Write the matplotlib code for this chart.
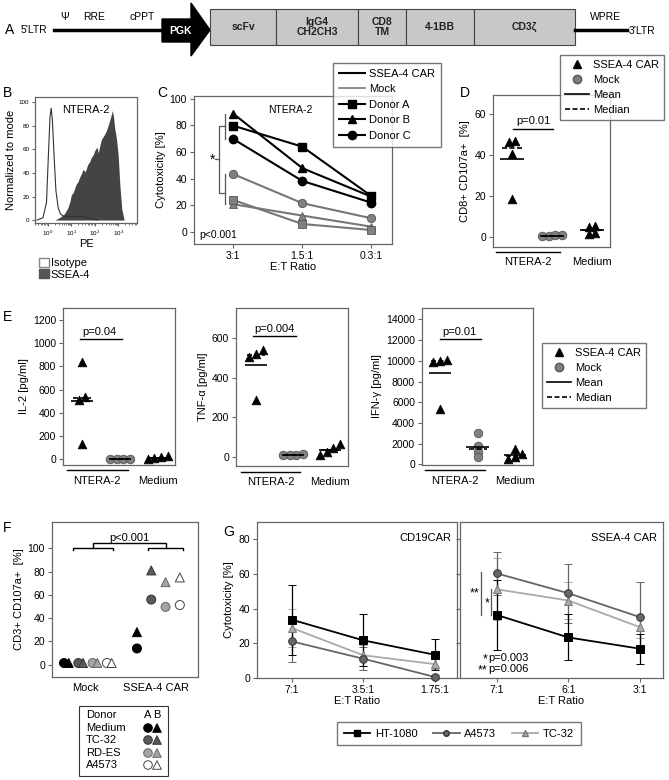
import numpy as np
import matplotlib
matplotlib.use('Agg')
import matplotlib.pyplot as plt
from matplotlib.lines import Line2D
from matplotlib.patches import Patch, Rectangle, Polygon

plt.rcParams['font.family'] = ['Liberation Sans', 'DejaVu Sans']
plt.rcParams['font.size'] = 7.5
plt.rcParams['axes.labelsize'] = 8

W, H = 669, 780

# ---------------- data ----------------
# A: construct segments
seg_names = ['scFv', 'IgG4\nCH2CH3', 'CD8\nTM', '4-1BB', 'CD3ζ']
seg_widths = [66, 82, 48, 68, 101]

# B: histogram (log10 PE, % of mode)
iso_x = [-0.45, -0.2, -0.05, 0.03, 0.1, 0.15, 0.2, 0.27, 0.35, 0.45, 0.55, 0.7, 0.9, 1.1, 1.4, 1.7, 1.9, 2.1]
iso_y = [0, 2, 15, 55, 88, 95, 85, 55, 25, 10, 5, 3, 3, 3, 3, 2, 1, 0]
ssea_x = [0.3, 0.5, 0.7, 0.85, 0.95, 1.0, 1.1, 1.2, 1.3, 1.35, 1.45, 1.5, 1.6, 1.7, 1.8, 1.85,
          1.95, 2.0, 2.1, 2.15, 2.25, 2.3, 2.4, 2.5, 2.6, 2.7, 2.75, 2.8, 2.85, 2.92, 3.0, 3.07,
          3.15, 3.25]
ssea_y = [0, 2, 5, 10, 16, 21, 24, 30, 33, 36, 40, 43, 41, 47, 50, 53, 56, 59, 62, 57, 66, 69,
          72, 76, 82, 89, 93, 88, 78, 70, 55, 30, 10, 0]

# C: cytotoxicity NTERA-2
c_ratios = ['3:1', '1.5:1', '0.3:1']
c_car = {'Donor A': [79.7, 64.0, 27.0], 'Donor B': [88.7, 47.9, 26.5], 'Donor C': [69.7, 38.3, 22.0]}
c_mock = {'Donor A': [24.0, 6.0, 1.5], 'Donor B': [20.8, 12.3, 4.0], 'Donor C': [43.4, 21.6, 10.3]}
donor_markers = {'Donor A': 's', 'Donor B': '^', 'Donor C': 'o'}

# D: CD107a
d_car = [47.0, 46.5, 40.5, 18.5]
d_mock = [0.5, 0.5, 0.8, 1.0]
d_medium = [5.5, 5.0, 2.0, 1.5]

# E: cytokines
e_il2 = ([840, 540, 510, 130], [2, 2, 2, 2], [5, 18, 28, 10])
e_tnf = ([540, 520, 505, 285], [10, 9, 8, 12], [8, 22, 45, 65])
e_ifn = ([10100, 10000, 9900, 5400], [3000, 1800, 1200, 700], [1500, 1000, 700, 550])

# F: CD3+ CD107a+
f_lines = ['Medium', 'TC-32', 'RD-ES', 'A4573']
f_mock_a = [1.5, 1.5, 1.5, 1.5]
f_mock_b = [1.5, 1.5, 1.5, 1.5]
f_car_a = [14.0, 56.0, 49.7, 51.3]
f_car_b = [28.0, 81.0, 71.0, 75.0]

# G: cytotoxicity vs target lines
g1_ratios = ['7:1', '3.5:1', '1.75:1']
g2_ratios = ['7:1', '6:1', '3:1']
g_names = ['HT-1080', 'A4573', 'TC-32']
g1_mean = {'HT-1080': [33.6, 21.7, 13.4], 'A4573': [21.1, 11.1, 0.6], 'TC-32': [28.8, 13.1, 8.0]}
g1_err = {'HT-1080': [20.3, 15.0, 9.0], 'A4573': [12.0, 6.5, 1.0], 'TC-32': [11.2, 6.0, 3.0]}
g2_mean = {'HT-1080': [36.4, 23.4, 16.9], 'A4573': [60.4, 48.9, 35.1], 'TC-32': [51.2, 44.7, 29.3]}
g2_err = {'HT-1080': [20.3, 13.3, 8.6], 'A4573': [12.5, 16.9, 20.0], 'TC-32': [17.8, 10.5, 6.0]}

# ---------------- helpers ----------------
fig = plt.figure(figsize=(W / 100, H / 100), dpi=100)

ov = fig.add_axes([0, 0, 1, 1])
ov.set_xlim(0, W)
ov.set_ylim(H, 0)
ov.axis('off')


def px_axes(x0, y0, x1, y1):
    return fig.add_axes([x0 / W, 1 - y1 / H, (x1 - x0) / W, (y1 - y0) / H])


def style(ax):
    for s in ax.spines.values():
        s.set_color('#666666')
        s.set_linewidth(0.9)
    ax.tick_params(color='#666666', labelsize=7.5, length=3, width=0.8, pad=2)


def swarm(vals, thr, step):
    vals = np.asarray(vals, float)
    order = np.argsort(vals)
    offs = np.zeros(len(vals))
    groups = [[order[0]]]
    for i in order[1:]:
        if vals[i] - vals[groups[-1][-1]] < thr:
            groups[-1].append(i)
        else:
            groups.append([i])
    for g in groups:
        for k, i in enumerate(g):
            offs[i] = (k - (len(g) - 1) / 2) * step
    return offs


def letter(x, y, s):
    ov.text(x, y, s, fontsize=10, ha='left', va='center')


GRAY = '#808080'

# ---------------- A ----------------
letter(5, 30, 'A')
ov.text(21, 30, "5'LTR", va='center', fontsize=7.5)
ov.plot([54, 162], [30, 30], color='black', lw=2.5)
for x, s in [(65, 'Ψ'), (94, 'RRE'), (142, 'cPPT')]:
    ov.text(x, 17, s, ha='center', va='center', fontsize=7.5)
ov.add_patch(Polygon([(162, 19), (191, 19), (191, 3), (210, 30), (191, 56), (191, 42), (162, 42)],
                     closed=True, fc='black', ec='black'))
ov.text(180, 31, 'PGK', color='white', fontweight='bold', ha='center', va='center', fontsize=7.5)
x = 210
for name, w in zip(seg_names, seg_widths):
    ov.add_patch(Rectangle((x, 9), w, 36, fc='#c8c8c8', ec='#444444', lw=0.8))
    ov.text(x + w / 2, 27, name, ha='center', va='center', fontweight='bold', fontsize=7.5,
            color='#222222', linespacing=1.1)
    x += w
ov.plot([x, x + 52], [30, 30], color='black', lw=2.5)
ov.text(x + 30, 17, 'WPRE', ha='center', va='center', fontsize=7.5)
ov.text(x + 54, 31, "3'LTR", va='center', fontsize=7.5)

# ---------------- B ----------------
letter(3, 93, 'B')
axb = px_axes(35, 97, 137, 223)
style(axb)
axb.fill_between(10 ** np.array(ssea_x), ssea_y, color='#444444', lw=0)
axb.plot(10 ** np.array(iso_x), iso_y, color='#333333', lw=0.8)
axb.set_xscale('log')
axb.set_xlim(10 ** -0.54, 10 ** 3.8)
axb.set_ylim(-2.5, 104.5)
axb.set_yticks(range(0, 101, 20))
axb.set_xticks([1, 10, 100, 1000])
axb.tick_params(labelsize=4.5, length=2)
axb.tick_params(which='minor', length=1.2, color='#666666')
axb.set_ylabel('Normalized to mode', fontsize=8, labelpad=2)
axb.set_xlabel('PE', fontsize=8, labelpad=1)
axb.text(0.5, 0.9, 'NTERA-2', transform=axb.transAxes, ha='center', va='center', fontsize=8)
fig.legend(handles=[Patch(fc='white', ec='#888888'), Patch(fc='#555555', ec='#555555')],
           labels=['Isotype', 'SSEA-4'], loc='upper left', bbox_to_anchor=(33 / W, 1 - 252 / H),
           frameon=False, fontsize=8, handlelength=0.9, handleheight=0.9, handletextpad=0.2,
           labelspacing=0.1, borderpad=0)

# ---------------- C ----------------
letter(157, 93, 'C')
axc = px_axes(194, 96, 392, 244)
style(axc)
xc = np.arange(len(c_ratios))
for d in ['Donor C', 'Donor B', 'Donor A']:
    axc.plot(xc, c_mock[d], color='#777777', lw=1.5, marker=donor_markers[d], ms=6,
             mfc=GRAY, mec='#555555', mew=0.6, zorder=2)
for d in ['Donor C', 'Donor B', 'Donor A']:
    axc.plot(xc, c_car[d], color='black', lw=1.5, marker=donor_markers[d], ms=6,
             mfc='black', mec='black', zorder=3)
axc.set_xlim(-0.57, 2.3)
axc.set_ylim(-9, 102)
axc.set_yticks(range(0, 101, 20))
axc.set_xticks(xc, c_ratios)
axc.set_xlabel('E:T Ratio', labelpad=1)
axc.set_ylabel('Cytotoxicity [%]', labelpad=3)
car0 = [v[0] for v in c_car.values()]
mock0 = [v[0] for v in c_mock.values()]
bx = -0.12
axc.plot([bx, bx], [min(car0), max(car0)], color='#555555', lw=0.9)
axc.plot([bx, bx], [min(mock0), max(mock0)], color='#555555', lw=0.9)
ym1, ym2 = np.mean(car0), np.mean(mock0)
axc.plot([bx, bx - 0.09, bx - 0.09, bx], [ym1, ym1, ym2, ym2], color='#555555', lw=0.9)
axc.plot([bx - 0.09, bx - 0.15], [(ym1 + ym2) / 2] * 2, color='#555555', lw=0.9)
axc.text(bx - 0.14, (ym1 + ym2) / 2, '*', ha='right', va='center', fontsize=10)
axc.text(0.83, 91.5, 'NTERA-2', ha='center', va='center', fontsize=7.5)
axc.text(-0.5, -2, 'p<0.001', ha='left', va='center', fontsize=7.5)
c_handles = [Line2D([], [], color='black', lw=1.5), Line2D([], [], color='#777777', lw=1.2)] + \
            [Line2D([], [], color='black', lw=1.5, marker=donor_markers[d], ms=6) for d in c_car]
fig.legend(handles=c_handles, labels=['SSEA-4 CAR', 'Mock'] + list(c_car), loc='upper left',
           bbox_to_anchor=(327 / W, 1 - 57 / H), fontsize=8, frameon=True, fancybox=False,
           edgecolor='#555555', handlelength=2.4, labelspacing=0.5, borderpad=0.55,
           handletextpad=0.3)


# ---------------- scatter panels (D, E) ----------------
def dot_panel(ax, groups, thr, step):
    for i, (vals, mk, fc, ec) in enumerate(groups):
        offs = swarm(vals, thr, step)
        ax.scatter(i + offs, vals, marker=mk, s=38, c=fc, edgecolors=ec, linewidths=0.6,
                   zorder=3, clip_on=False)
        ax.hlines(np.mean(vals), i - 0.3, i + 0.3, color='black', lw=1.2, zorder=4)
        ax.hlines(np.median(vals), i - 0.24, i + 0.24, color='black', lw=1.2,
                  linestyles=(0, (3, 1.5)), zorder=4)
    ax.set_xticks([])
    ax.plot([-0.4, 1.2], [-0.035, -0.035], color='black', lw=1.0,
            transform=ax.get_xaxis_transform(), clip_on=False)
    ax.text(0.4, -0.1, 'NTERA-2', transform=ax.get_xaxis_transform(), ha='center', va='center',
            fontsize=8)
    ax.text(2.0, -0.1, 'Medium', transform=ax.get_xaxis_transform(), ha='center', va='center',
            fontsize=8)


def ptext(ax, xc, y_text, y_line, x0, x1, s):
    ax.text(xc, y_text, s, ha='center', va='center', fontsize=8)
    ax.plot([x0, x1], [y_line, y_line], color='black', lw=1.0)


def dot_legend(x0, y0):
    hs = [Line2D([], [], ls='none', marker='^', color='black', ms=6),
          Line2D([], [], ls='none', marker='o', mfc=GRAY, mec='#555555', ms=6),
          Line2D([], [], color='black', lw=1.2),
          Line2D([], [], color='black', lw=1.2, ls=(0, (3, 1.5)))]
    fig.legend(handles=hs, labels=['SSEA-4 CAR', 'Mock', 'Mean', 'Median'], loc='upper left',
               bbox_to_anchor=(x0 / W, 1 - y0 / H), fontsize=8, frameon=True, fancybox=False,
               edgecolor='#555555', handlelength=2.2, labelspacing=0.45, borderpad=0.45,
               handletextpad=0.3, borderaxespad=0)


letter(460, 93, 'D')
axd = px_axes(493, 95, 610, 247)
style(axd)
dot_panel(axd, [(d_car, '^', 'black', 'black'), (d_mock, 'o', GRAY, '#555555'),
                (d_medium, '^', 'black', 'black')], 2.5, 0.17)
axd.set_xlim(-0.475, 2.45)
axd.set_ylim(-4.9, 69.3)
axd.set_yticks(range(0, 61, 20))
axd.set_ylabel('CD8+ CD107a+  [%]', labelpad=3)
ptext(axd, 0.53, 56.6, 52.7, 0.02, 1.02, 'p=0.01')
dot_legend(560, 55)

letter(3, 317, 'E')
e_specs = [((63, 308, 175, 465), e_il2, (-49, 1303), range(0, 1201, 200), (-0.5, 2.45),
            'IL-2 [pg/ml]', 60, (0.47, 1096, 1036, -0.05, 1.05, 'p=0.04')),
           ((236, 308, 348, 466), e_tnf, (-48, 753), range(0, 601, 200), (-0.54, 2.49),
            'TNF-α [pg/ml]', 35, (0.51, 647, 610, -0.08, 1.08, 'p=0.004')),
           ((422, 308, 533, 465), e_ifn, (-50, 15100), range(0, 14001, 2000), (-0.48, 2.48),
            'IFN-γ [pg/ml]', 400, (0.53, 12780, 12110, 0.0, 1.09, 'p=0.01'))]
for box, (car, mock, med), yl, yt, xl, lab, thr, pt in e_specs:
    ax = px_axes(*box)
    style(ax)
    dot_panel(ax, [(car, '^', 'black', 'black'), (mock, 'o', GRAY, '#555555'),
                   (med, '^', 'black', 'black')], thr, 0.18)
    ax.set_xlim(*xl)
    ax.set_ylim(*yl)
    ax.set_yticks(list(yt))
    ax.set_ylabel(lab, labelpad=3)
    ptext(ax, *pt)
dot_legend(542, 343)

# ---------------- F ----------------
letter(3, 528, 'F')
axf = px_axes(52, 522, 198, 677)
style(axf)
f_fc = ['black', '#5a5a5a', '#a3a3a3', 'white']
f_ec = ['black', '#333333', '#666666', '#444444']
xi = np.arange(len(f_lines))
axf.scatter(xi, f_mock_a, marker='o', s=42, c=f_fc, edgecolors=f_ec, linewidths=0.7, zorder=3)
axf.scatter(xi + 0.33, f_mock_b, marker='^', s=42, c=f_fc, edgecolors=f_ec, linewidths=0.7, zorder=3)
axf.scatter(xi + 5.1, f_car_a, marker='o', s=42, c=f_fc, edgecolors=f_ec, linewidths=0.7, zorder=3)
axf.scatter(xi + 5.1, f_car_b, marker='^', s=42, c=f_fc, edgecolors=f_ec, linewidths=0.7, zorder=3)
axf.set_xlim(-0.84, 9.37)
axf.set_ylim(-10.5, 122.6)
axf.set_yticks(range(0, 101, 20))
axf.set_xticks([])
axf.set_ylabel('CD3+ CD107a+  [%]', labelpad=3)
tf = axf.get_xaxis_transform()
axf.text(1.5, -0.07, 'Mock', transform=tf, ha='center', va='center', fontsize=8)
axf.text(6.4, -0.07, 'SSEA-4 CAR', transform=tf, ha='center', va='center', fontsize=8)
for a, b in [(0.63, 3.43), (5.87, 8.32)]:
    axf.plot([a, a, b, b], [98.3, 100.7, 100.7, 98.3], color='black', lw=1.0)
axf.plot([2.03, 2.03, 7.13, 7.13], [100.7, 104.8, 104.8, 100.7], color='black', lw=1.0)
axf.text(4.58, 108.5, 'p<0.001', ha='center', va='center', fontsize=8)

ov.add_patch(Rectangle((79, 706), 89, 70, fc='white', ec='#333333', lw=0.8))
rows_y = [728, 740, 753, 765]
ov.text(86, 715, 'Donor', va='center', fontsize=8)
ov.text(148, 715, 'A', va='center', ha='center', fontsize=8)
ov.text(157, 715, 'B', va='center', ha='center', fontsize=8)
ov.scatter([148] * 4, rows_y, marker='o', s=38, c=f_fc, edgecolors=f_ec, linewidths=0.7)
ov.scatter([157] * 4, rows_y, marker='^', s=38, c=f_fc, edgecolors=f_ec, linewidths=0.7)
for y, s in zip(rows_y, f_lines):
    ov.text(86, y, s, va='center', fontsize=8)

# ---------------- G ----------------
letter(223, 532, 'G')
g_style = {'HT-1080': ('black', 's', 'black', 'black'),
           'A4573': ('#666666', 'o', '#666666', '#333333'),
           'TC-32': ('#aaaaaa', '^', '#aaaaaa', '#777777')}
g_order = ['TC-32', 'A4573', 'HT-1080']
for box, ratios, means, errs, xl, title in [
        ((257, 522, 457, 678), g1_ratios, g1_mean, g1_err, (-0.49, 2.31), 'CD19CAR'),
        ((460, 522, 663, 678), g2_ratios, g2_mean, g2_err, (-0.51, 2.32), 'SSEA-4 CAR')]:
    ax = px_axes(*box)
    style(ax)
    xg = np.arange(len(ratios))
    for n in g_order:
        col, mk, fc, ec = g_style[n]
        ax.errorbar(xg, means[n], yerr=errs[n], color=col, lw=1.3, marker=mk, ms=5.5, mfc=fc,
                    mec=ec, mew=0.7, ecolor=col, elinewidth=0.9, capsize=3, capthick=0.9,
                    clip_on=False, zorder=3)
    ax.set_xlim(*xl)
    ax.set_ylim(0, 90)
    ax.set_yticks(range(0, 81, 20))
    ax.set_xticks(xg, ratios)
    ax.set_xlabel('E:T Ratio', labelpad=1)
    ax.text(0.97, 0.9, title, transform=ax.transAxes, ha='right', va='center', fontsize=8)
    if title == 'CD19CAR':
        ax.set_ylabel('Cytotoxicity [%]', labelpad=3)
    else:
        ax.tick_params(labelleft=False)
        m = g2_mean
        ax.plot([-0.22, -0.22], [m['A4573'][0] + 1, m['HT-1080'][0]], color='#555555', lw=0.9)
        ax.plot([-0.08, -0.08], [m['TC-32'][0], m['HT-1080'][0]], color='#555555', lw=0.9)
        ax.text(-0.24, 48.5, '**', ha='right', va='center', fontsize=9)
        ax.text(-0.1, 43, '*', ha='right', va='center', fontsize=9)
        ax.text(-0.13, 10.5, '*', ha='right', va='center', fontsize=9)
        ax.text(-0.11, 11.5, 'p=0.003', ha='left', va='center', fontsize=8)
        ax.text(-0.13, 4.2, '**', ha='right', va='center', fontsize=9)
        ax.text(-0.11, 5.2, 'p=0.006', ha='left', va='center', fontsize=8)

g_handles = [Line2D([], [], color=g_style[n][0], lw=1.3, marker=g_style[n][1], ms=4,
                    mfc=g_style[n][2], mec=g_style[n][3]) for n in g_names]
fig.legend(handles=g_handles, labels=g_names, loc='upper left', ncol=3,
           bbox_to_anchor=(337 / W, 1 - 722 / H), fontsize=8, frameon=True, fancybox=False,
           edgecolor='#555555', handlelength=2.4, columnspacing=1.4, borderpad=0.6,
           handletextpad=0.4, borderaxespad=0)

fig.savefig('out.png', dpi=100)
